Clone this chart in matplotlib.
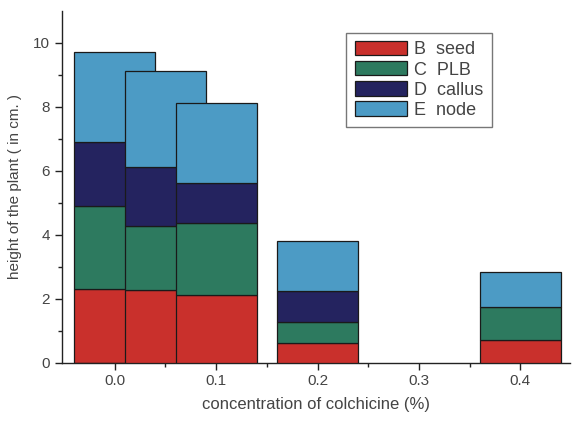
import matplotlib
matplotlib.use("Agg")
import matplotlib.pyplot as plt
import numpy as np

plt.rcParams['font.family'] = ['Liberation Sans', 'DejaVu Sans']

# concentration of colchicine (%) for each stacked bar
conc = [0.0, 0.05, 0.1, 0.2, 0.4]
# segment heights (cm)
seed = [2.29, 2.28, 2.12, 0.60, 0.71]
plb = [2.59, 2.00, 2.25, 0.68, 1.02]
callus = [2.02, 1.84, 1.25, 0.94, 0.0]
node = [2.80, 2.98, 2.48, 1.59, 1.11]

series = [("B  seed", seed, "#c9302c"),
          ("C  PLB", plb, "#2d7a5f"),
          ("D  callus", callus, "#24235f"),
          ("E  node", node, "#4c9bc5")]

fig = plt.figure(figsize=(5.74, 4.24), dpi=100)
ax = fig.add_axes([0.108, 0.145, 0.885, 0.83])

txt = "#444444"
width = 0.08
handles = []
# draw bar by bar so later bars sit over earlier ones
for i, x in enumerate(conc):
    bottom = 0.0
    for name, vals, col in series:
        if vals[i] > 0:
            b = ax.bar(x, vals[i], width, bottom=bottom, color=col,
                       edgecolor="#1a1a1a", linewidth=0.9, zorder=2 + i)
            if i == 0:
                handles.append((b, name))
        bottom += vals[i]

ax.set_xlim(-0.052, 0.449)
ax.set_ylim(0, 11)
ax.set_xticks([0.0, 0.1, 0.2, 0.3, 0.4])
ax.set_xticks([0.05, 0.15, 0.25, 0.35], minor=True)
ax.set_yticks([0, 2, 4, 6, 8, 10])
ax.set_yticks([1, 3, 5, 7, 9], minor=True)
ax.set_xticklabels(["0.0", "0.1", "0.2", "0.3", "0.4"])

for s in ["top", "right"]:
    ax.spines[s].set_visible(False)
for s in ["left", "bottom"]:
    ax.spines[s].set_color("#222222")
    ax.spines[s].set_linewidth(1.0)
ax.tick_params(which="major", direction="out", length=5, width=1.0,
               colors="#222222", labelcolor=txt, labelsize=11)
ax.tick_params(which="minor", direction="out", length=3, width=1.0,
               colors="#222222")

ax.set_xlabel("concentration of colchicine (%)", fontsize=12, color=txt,
              labelpad=6)
ax.set_ylabel("height of the plant ( in cm. )", fontsize=11, color=txt,
              labelpad=8)

leg = ax.legend([h for h, _ in handles], [n for _, n in handles],
                loc="upper left", bbox_to_anchor=(0.56, 0.937),
                fontsize=13, frameon=True, fancybox=False,
                handlelength=2.9, handleheight=0.85, handletextpad=0.4,
                labelspacing=0.15, borderpad=0.45, borderaxespad=0)
leg.get_frame().set_edgecolor("#555555")
leg.get_frame().set_linewidth(1.0)
for t in leg.get_texts():
    t.set_color(txt)

fig.savefig("out.png", dpi=100)
